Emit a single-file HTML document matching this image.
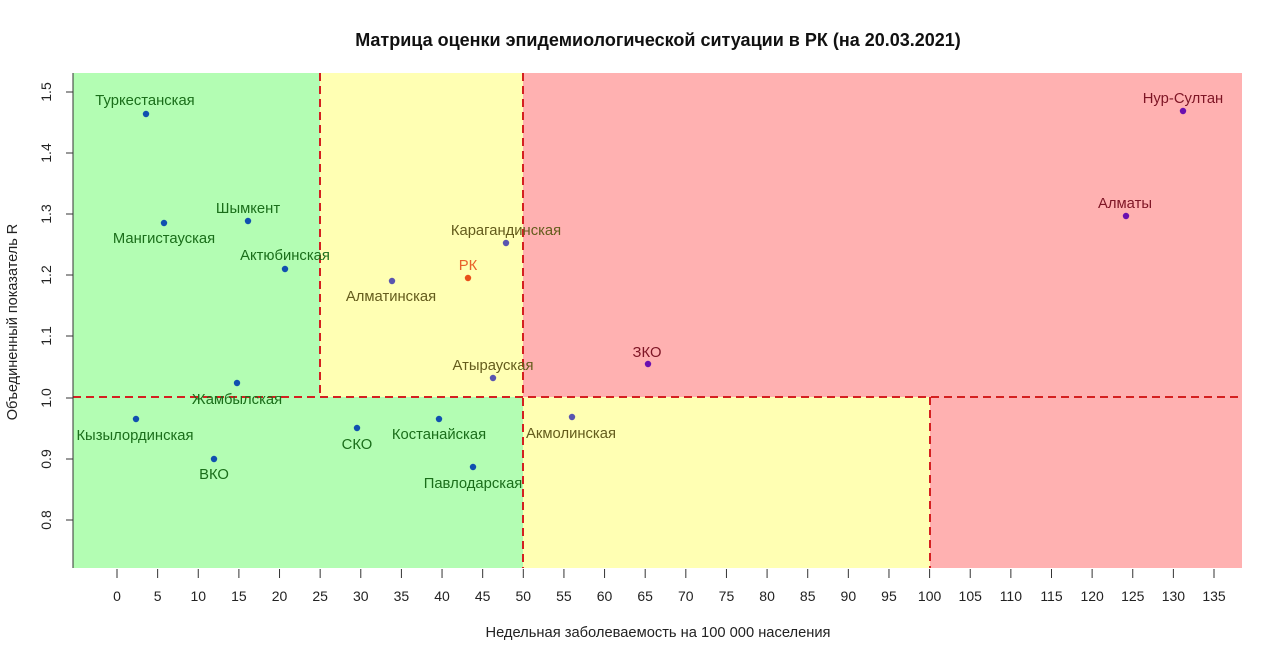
<!DOCTYPE html><html><head><meta charset="utf-8"><style>body{margin:0;background:#fff}</style></head><body>
<svg width="1280" height="660" xmlns="http://www.w3.org/2000/svg" font-family="Liberation Sans, sans-serif">
<rect width="1280" height="660" fill="#fff"/>
<text x="658" y="46" text-anchor="middle" font-size="18" font-weight="bold" fill="#111">Матрица оценки эпидемиологической ситуации в РК (на 20.03.2021)</text>
<rect x="73" y="73" width="247" height="495" fill="#b3fdb3"/>
<rect x="320" y="397" width="203" height="171" fill="#b3fdb3"/>
<rect x="320" y="73" width="203" height="324" fill="#ffffb3"/>
<rect x="523" y="397" width="407" height="171" fill="#ffffb3"/>
<rect x="523" y="73" width="719" height="324" fill="#ffb1b1"/>
<rect x="930" y="397" width="312" height="171" fill="#ffb1b1"/>
<g stroke="#d42020" stroke-width="2" stroke-dasharray="8,5" fill="none">
<line x1="320" y1="73" x2="320" y2="397"/><line x1="523" y1="73" x2="523" y2="568"/>
<line x1="73" y1="397" x2="1242" y2="397"/><line x1="930" y1="397" x2="930" y2="568"/>
</g>
<line x1="73" y1="73" x2="73" y2="568" stroke="#333"/>
<g stroke="#333">
<line x1="66" y1="92" x2="73" y2="92"/><line x1="66" y1="153" x2="73" y2="153"/><line x1="66" y1="214" x2="73" y2="214"/><line x1="66" y1="275" x2="73" y2="275"/><line x1="66" y1="336" x2="73" y2="336"/><line x1="66" y1="398" x2="73" y2="398"/><line x1="66" y1="459" x2="73" y2="459"/><line x1="66" y1="520" x2="73" y2="520"/>
</g>
<g font-size="14" fill="#222" text-anchor="middle">
<text transform="translate(51,92) rotate(-90)">1.5</text><text transform="translate(51,153) rotate(-90)">1.4</text><text transform="translate(51,214) rotate(-90)">1.3</text><text transform="translate(51,275) rotate(-90)">1.2</text><text transform="translate(51,336) rotate(-90)">1.1</text><text transform="translate(51,398) rotate(-90)">1.0</text><text transform="translate(51,459) rotate(-90)">0.9</text><text transform="translate(51,520) rotate(-90)">0.8</text>
<text transform="translate(17,322) rotate(-90)" font-size="14.5">Объединенный показатель R</text>
</g>
<g id="xt" stroke="#333"></g>
<g font-size="14" fill="#222" text-anchor="middle" id="xl"></g>
<text x="658" y="637" text-anchor="middle" font-size="14.7" fill="#222">Недельная заболеваемость на 100 000 населения</text>
<g font-size="14.8" text-anchor="middle">
<g fill="#1a6e1a">
<text x="145" y="105">Туркестанская</text><text x="164" y="243">Мангистауская</text><text x="248" y="213">Шымкент</text><text x="285" y="260">Актюбинская</text><text x="237" y="404">Жамбылская</text><text x="135" y="440">Кызылординская</text><text x="214" y="479">ВКО</text><text x="357" y="449">СКО</text><text x="439" y="439">Костанайская</text><text x="473" y="488">Павлодарская</text>
</g>
<g fill="#645c1c">
<text x="391" y="301">Алматинская</text><text x="506" y="235">Карагандинская</text><text x="493" y="370">Атырауская</text><text x="571" y="438">Акмолинская</text>
</g>
<text x="468" y="270" fill="#e8602a">РК</text>
<g fill="#7e1525"><text x="647" y="357">ЗКО</text><text x="1125" y="208">Алматы</text><text x="1183" y="103">Нур-Султан</text></g>
</g>
<g fill="#1050b0">
<circle cx="146" cy="114" r="3.2"/><circle cx="164" cy="223" r="3.2"/><circle cx="248" cy="221" r="3.2"/><circle cx="285" cy="269" r="3.2"/><circle cx="237" cy="383" r="3.2"/><circle cx="136" cy="419" r="3.2"/><circle cx="214" cy="459" r="3.2"/><circle cx="357" cy="428" r="3.2"/><circle cx="439" cy="419" r="3.2"/><circle cx="473" cy="467" r="3.2"/>
</g>
<g fill="#5a55b0"><circle cx="392" cy="281" r="3.2"/><circle cx="506" cy="243" r="3.2"/><circle cx="493" cy="378" r="3.2"/><circle cx="572" cy="417" r="3.2"/></g>
<circle cx="468" cy="278" r="3.2" fill="#e8501a"/>
<g fill="#6a10b0"><circle cx="648" cy="364" r="3.2"/><circle cx="1126" cy="216" r="3.2"/><circle cx="1183" cy="111" r="3.2"/></g>
<script>
var t=document.getElementById('xt'),l=document.getElementById('xl'),ns='http://www.w3.org/2000/svg';
for(var v=0;v<=135;v+=5){var x=117+v*8.126;var ln=document.createElementNS(ns,'line');ln.setAttribute('x1',x);ln.setAttribute('x2',x);ln.setAttribute('y1',569);ln.setAttribute('y2',578);t.appendChild(ln);
var tx=document.createElementNS(ns,'text');tx.setAttribute('x',x);tx.setAttribute('y',601);tx.textContent=v;l.appendChild(tx);}
</script>
</svg>
</body></html>
